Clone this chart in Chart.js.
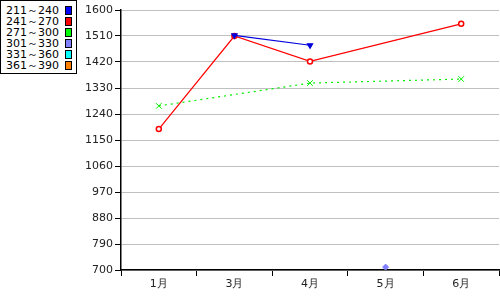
<!DOCTYPE html>
<html>
<head>
<meta charset="utf-8">
<script src="https://cdn.jsdelivr.net/npm/chart.js@4"></script>
<style>
    body { margin: 0; background: #fff; }
    #wrap { position: relative; width: 500px; height: 300px; }
    #legend {
        position: absolute; left: 0; top: 0; width: 75px; height: 68px;
        border: 1px solid #000; background: #fff;
        font: 11px "DejaVu Sans", sans-serif; color: #000;
        padding-top: 4px; box-sizing: content-box;
    }
    #legend div { position: relative; height: 11px; line-height: 11px; padding-left: 5px; }
    #legend span.box {
        position: absolute; left: 64px; top: 1px; width: 5px; height: 7px;
        border: 1px solid #000;
    }
</style>
</head>
<body>
<div id="wrap">
    <canvas id="chart" width="500" height="300"></canvas>
    <div id="legend"></div>
</div>
<script>
const months = ["1月", "3月", "4月", "5月", "6月"];
const seriesNames = ["211～240", "241～270", "271～300", "301～330", "331～360", "361～390"];
const seriesColors = ["#0000ff", "#ff0000", "#00ff00", "#8080ff", "#00ffff", "#ff8000"];

const s211 = [null, 1512, 1478, null, null];
const s241 = [1188, 1510, 1422, null, 1552];
const s271 = [1268, null, 1347, null, 1361];
const s301 = [null, null, null, 710, null];
const s331 = [null, null, null, null, null];
const s361 = [null, null, null, null, null];

const legend = document.getElementById("legend");
seriesNames.forEach((name, i) => {
    const row = document.createElement("div");
    row.textContent = name;
    const box = document.createElement("span");
    box.className = "box";
    box.style.background = seriesColors[i];
    row.appendChild(box);
    legend.appendChild(row);
});

const font = { family: "DejaVu Sans", size: 11 };

new Chart(document.getElementById("chart"), {
    type: "line",
    data: {
        labels: months,
        datasets: [
            {
                data: s211, borderColor: "#0000dd", backgroundColor: "#0000dd", borderWidth: 1.2,
                pointStyle: "triangle", rotation: 180, pointRadius: 3, spanGaps: true
            },
            {
                data: s241, borderColor: "#ff0000", backgroundColor: "#ffffff", borderWidth: 1.2,
                pointStyle: "circle", pointRadius: 2.5, pointBorderWidth: 1.5, spanGaps: true
            },
            {
                data: s271, borderColor: "#00ee00", backgroundColor: "#00ee00", borderWidth: 1.2,
                borderDash: [2, 4], pointStyle: "crossRot", pointRadius: 4, pointBorderWidth: 1, spanGaps: true
            },
            {
                data: s301, borderColor: "#8080ff", backgroundColor: "#8080ff", borderWidth: 1,
                pointStyle: "rectRot", pointRadius: 3, spanGaps: true
            },
            { data: s331, borderColor: "#00ffff", spanGaps: true },
            { data: s361, borderColor: "#ff8000", spanGaps: true }
        ]
    },
    options: {
        responsive: false,
        animation: false,
        layout: { autoPadding: false, padding: { top: 10, right: 1, left: 0, bottom: 0 } },
        plugins: { legend: { display: false }, tooltip: { enabled: false } },
        elements: { line: { tension: 0 } },
        scales: {
            x: {
                offset: true,
                grid: { offset: true, drawOnChartArea: false, tickLength: 6, tickColor: "#000", tickWidth: 1 },
                border: { color: "#000", width: 1.5 },
                ticks: { color: "#222", font: font, padding: 2 },
                afterFit: (s) => { s.height = 30; }
            },
            y: {
                min: 700,
                max: 1600,
                grid: { color: "#c0c0c0", lineWidth: 1, tickLength: 6, tickColor: "#000" },
                border: { color: "#000", width: 1.5 },
                ticks: { stepSize: 90, color: "#222", font: font, padding: 2, callback: (v) => String(v) },
                afterFit: (s) => { s.width = 121; }
            }
        }
    }
});
</script>
</body>
</html>
